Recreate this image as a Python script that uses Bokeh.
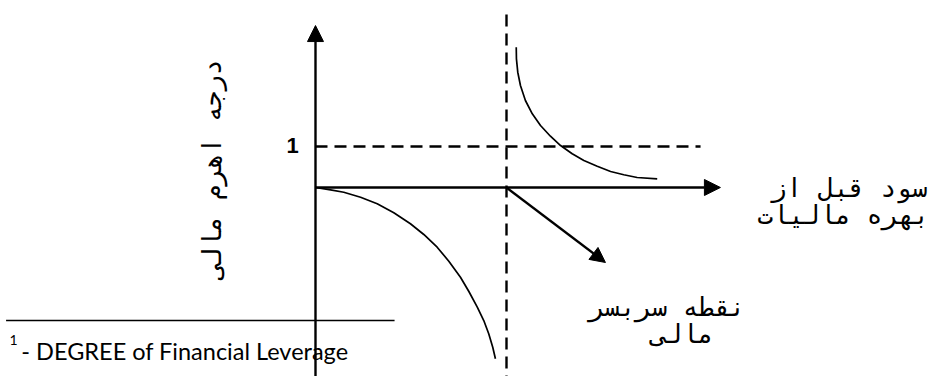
import math
from bokeh.plotting import figure
from bokeh.models import Range1d, Arrow, NormalHead
from bokeh.core.properties import value
from bokeh.embed import file_html
from bokeh.resources import INLINE

# ---- chart data (x: EBIT, financial breakeven = 1 ; y: DFL) ----
upper_x = [1.051, 1.052, 1.059, 1.073, 1.099, 1.135, 1.178, 1.230, 1.283,
           1.344, 1.405, 1.475, 1.545, 1.614, 1.684, 1.789]
upper_y = [3.422, 3.139, 2.812, 2.488, 2.122, 1.798, 1.512, 1.251, 1.024,
           0.822, 0.659, 0.520, 0.390, 0.310, 0.244, 0.212]
lower_x = [0.0, 0.079, 0.148, 0.236, 0.323, 0.410, 0.497, 0.567, 0.637,
           0.698, 0.759, 0.803, 0.847, 0.881, 0.907, 0.928, 0.942]
lower_y = [0.0, -0.056, -0.115, -0.237, -0.398, -0.617, -0.885, -1.146, -1.456,
           -1.798, -2.188, -2.537, -2.920, -3.244, -3.568, -3.895, -4.178]

breakeven = 1.0          # financial breakeven point on EBIT axis
dfl_one = 1.0            # DFL = 1 reference level
x_axis_end = 2.12
y_axis_top = 3.95
y_axis_bottom = -4.8
dfl_line_end = 2.016
breakeven_line_top = 4.22
pointer_end = [1.518, -1.829]
footnote_rule = [[-1.62, 0.414], [-3.244, -3.244]]

# ---- labels ----
y_title = "درجه اهرم مالی"
x_title = ["سود قبل از", "بهره مالیات"]
x_title_pos = [[3.204, 3.214], [-0.024, -0.659]]
bep_title = ["نقطه سربسر", "مالی"]
bep_title_pos = [[2.251, 2.084], [-2.905, -3.585]]
one_label = "1"
footnote_mark = "1"
footnote_text = "- DEGREE of Financial Leverage"

p = figure(width=939, height=376, output_backend="svg", toolbar_location=None,
           x_range=Range1d(-1.6492, 3.2670), y_range=Range1d(-4.6098, 4.5610),
           min_border=0)
p.axis.visible = False
p.grid.visible = False
p.outline_line_color = None
p.background_fill_color = "white"
p.border_fill_color = "white"

# dashed reference lines
p.line([0, dfl_line_end], [dfl_one, dfl_one], line_color="black", line_width=2.4,
       line_dash="12 7")
p.line([breakeven, breakeven], [breakeven_line_top, y_axis_bottom], line_color="black",
       line_width=2.4, line_dash="12 7")

# curves
p.line(upper_x, upper_y, line_color="black", line_width=1.7, line_join="round")
p.line(lower_x, lower_y, line_color="black", line_width=1.7, line_join="round")

# footnote rule
p.line(footnote_rule[0], footnote_rule[1], line_color="black", line_width=1.7)

# axes with arrows
p.add_layout(Arrow(end=NormalHead(size=16, fill_color="black", line_color="black", line_width=1),
                   x_start=0, y_start=y_axis_bottom, x_end=0, y_end=y_axis_top,
                   line_width=2.4, line_color="black"))
p.add_layout(Arrow(end=NormalHead(size=16, fill_color="black", line_color="black", line_width=1),
                   x_start=0, y_start=0, x_end=x_axis_end, y_end=0,
                   line_width=2.4, line_color="black"))
p.add_layout(Arrow(end=NormalHead(size=15, fill_color="black", line_color="black", line_width=1),
                   x_start=breakeven, y_start=0, x_end=pointer_end[0], y_end=pointer_end[1],
                   line_width=2.4, line_color="black"))

fa_font = value("DejaVu Sans Mono")

p.text(x=[-0.54], y=[0.45], text=[y_title], angle=math.pi / 2,
       text_font=fa_font, text_font_size="26px",
       text_align="center", text_baseline="middle", text_color="black")
p.text(x=x_title_pos[0], y=x_title_pos[1], text=x_title, text_font=fa_font,
       text_font_size="26px", text_align="right",
       text_baseline="alphabetic", text_color="black")
p.text(x=bep_title_pos[0], y=bep_title_pos[1], text=bep_title, text_font=fa_font,
       text_font_size="26px", text_align="right",
       text_baseline="alphabetic", text_color="black")

p.text(x=[-0.12], y=[1.024], text=[one_label], text_font=value("Liberation Sans"),
       text_font_size="22px", text_font_style="bold", text_align="center",
       text_baseline="middle", text_color="black")

p.text(x=[-1.602], y=[-3.71], text=[footnote_mark], text_font=value("Lato"),
       text_font_size="14px", text_align="left", text_baseline="alphabetic",
       text_color="black")
p.text(x=[-1.540], y=[-3.98], text=[footnote_text], text_font=value("Lato"),
       text_font_size="23.5px", text_align="left", text_baseline="alphabetic",
       text_color="black")

open("out.html", "w").write(file_html(p, INLINE))
